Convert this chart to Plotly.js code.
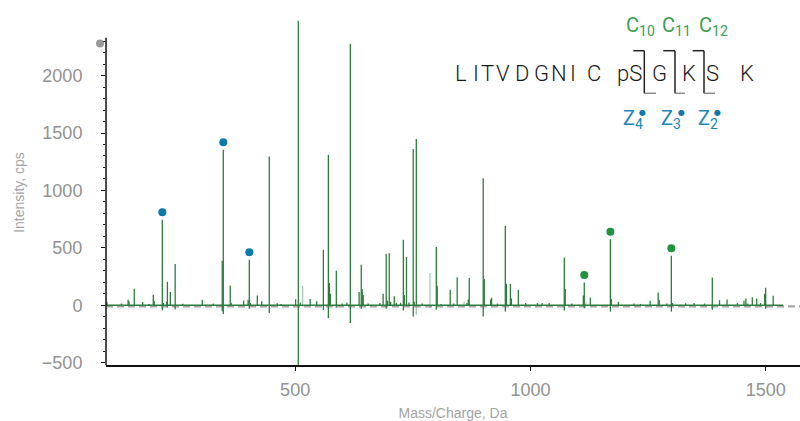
<!DOCTYPE html>
<html>
<head>
<meta charset="utf-8">
<script src="https://cdn.plot.ly/plotly-3.0.1.min.js"></script>
<style>
  html, body { margin: 0; padding: 0; background: #ffffff; }
  #chart { width: 800px; height: 421px; }
</style>
</head>
<body>
<div id="chart"></div>
<script>
// Product-ion spectrum of LITVDGNIC pS G K S K (upper trace) with mirrored reference peaks.

// Upper spectrum: m/z and intensity (cps)
const peakMz = [
  100, 131, 145, 147, 158, 176, 189, 198.5, 200.5, 217.7, 220, 227, 228.5, 234.7, 245, 261,
  302.7, 326, 345, 347.3, 362, 364, 390.5, 400, 402.6, 405, 419.6, 429, 445, 462, 470,
  501, 506.7, 511, 532, 545.7, 560, 570.6, 572.7, 574.8, 587.5, 600, 610, 617.3,
  636, 640.5, 642.6, 644.7, 655, 680, 687, 693.6, 696, 700, 703, 710.6, 715, 724,
  730, 732, 736.6, 742, 751, 753, 757.5, 770, 800, 802, 810, 829.5, 837, 844.4,
  865, 868, 870, 899.7, 902, 915.5, 917.5, 930, 946.7, 949, 957.5, 959.5, 974.3,
  990, 1015, 1025, 1040, 1072, 1074, 1088, 1112.5, 1114.5, 1127.3, 1170, 1172, 1187,
  1220, 1234, 1254.6, 1271.6, 1273.7, 1290, 1299.6, 1302, 1330, 1348, 1370, 1386.6,
  1402, 1418, 1440, 1454, 1458, 1462, 1471.6, 1481, 1489, 1498, 1500, 1516
];
const peakIntensity = [
  30, 15, 48, 36, 144, 28, 12, 92, 38, 745, 20, 30, 205, 116, 360, 14,
  48, 15, 387, 1354, 172, 22, 40, 48, 396, 20, 85, 35, 1296, 18, 12,
  53, 2477, 25, 55, 35, 483, 1310, 193, 100, 300, 15, 25, 2277,
  115, 352, 140, 90, 15, 20, 100, 448, 40, 454, 30, 78, 20, 22,
  570, 90, 420, 25, 1360, 30, 1447, 15, 507, 170, 12, 135, 15, 245,
  20, 50, 237, 1107, 228, 50, 65, 15, 692, 187, 187, 60, 135,
  20, 20, 20, 20, 416, 144, 15, 85, 199, 68, 576, 55, 30,
  15, 12, 40, 112, 48, 15, 431, 20, 18, 20, 15, 242,
  45, 50, 20, 40, 60, 15, 70, 60, 20, 100, 152, 83
];

// Mirrored reference peaks (drawn below zero)
const mirrorMz = [
  217.7, 228.5, 245, 345, 347.3, 402.6, 445, 506.7, 560, 570.6, 587.5, 617.3,
  640.5, 693.6, 730, 751, 800, 899.7, 946.7, 1072, 1114.5, 1170, 1299.6, 1386.6, 1500
];
const mirrorIntensity = [
  -45, -19, -36, -53, -77, -30, -68, -560, -39, -112, -20, -155,
  -30, -30, -45, -97, -40, -97, -55, -45, -25, -55, -55, -39, -30
];

// Weak, unassigned peaks drawn faded
const fadedMz = [516, 757.5, 786.6, 859, 1118];
const fadedIntensity = [170, -83, 280, 30, 25];
const fadedMirrorMz = [786.6, 516];
const fadedMirrorIntensity = [-25, -10];

// Spectrum baseline span (m/z)
const baselineSpan = [98, 1537];

// Fragment ion assignments: z• ions (blue) and c ions (green)
const zIonMz = [217.7, 347.3, 402.6];
const zIonIntensity = [745, 1354, 396];
const cIonMz = [1114.5, 1170, 1299.6];
const cIonIntensity = [199, 576, 431];

// Peptide sequence and fragment labels
const residues = ['L', 'I', 'T', 'V', 'D', 'G', 'N', 'I', 'C', 'pS', 'G', 'K', 'S', 'K'];
const cLabels = ['C<sub>10</sub>', 'C<sub>11</sub>', 'C<sub>12</sub>'];
const zLabels = ['Z<sub>4</sub>', 'Z<sub>3</sub>', 'Z<sub>2</sub>'];

// Axis ticks
const yTickVals = [-500, 0, 500, 1000, 1500, 2000];
const xTickVals = [500, 1000, 1500];

// ---- styling / layout helpers ----
const LINE_GREEN = '#2e7b3e';
const FADED_GREEN = 'rgba(46,123,62,0.4)';
const Z_BLUE = '#0b79a9';
const C_GREEN = '#1f9440';
const MARKER_LIFT = 65;

const M = { l: 106, r: 0, t: 20, b: 56 };
const PW = 800 - M.l - M.r, PH = 421 - M.t - M.b;
const px = v => (v - M.l) / PW;          // page pixel -> paper x
const py = v => (M.t + PH - v) / PH;     // page pixel -> paper y

function sticks(mz, inten) {
  const x = [], y = [];
  mz.forEach((m, i) => { x.push(m, m, null); y.push(0, inten[i], null); });
  return { x, y };
}

const up = sticks(peakMz, peakIntensity);
const down = sticks(mirrorMz, mirrorIntensity);
const fadedUp = sticks(fadedMz, fadedIntensity);
const fadedDown = sticks(fadedMirrorMz, fadedMirrorIntensity);

const traces = [
  { x: fadedUp.x, y: fadedUp.y, mode: 'lines', line: { color: FADED_GREEN, width: 1.3 }, hoverinfo: 'skip' },
  { x: fadedDown.x, y: fadedDown.y, mode: 'lines', line: { color: FADED_GREEN, width: 1.3 }, hoverinfo: 'skip' },
  { x: baselineSpan, y: [0, 0], mode: 'lines', line: { color: LINE_GREEN, width: 1.6 }, hoverinfo: 'skip' },
  { x: up.x, y: up.y, mode: 'lines', line: { color: LINE_GREEN, width: 1.3 } },
  { x: down.x, y: down.y, mode: 'lines', line: { color: LINE_GREEN, width: 1.3 } },
  { x: zIonMz, y: zIonIntensity.map(v => v + MARKER_LIFT), mode: 'markers',
    marker: { color: Z_BLUE, size: 8 } },
  { x: cIonMz, y: cIonIntensity.map(v => v + MARKER_LIFT), mode: 'markers',
    marker: { color: C_GREEN, size: 8 } }
];

// Residue centres along the sequence line (page pixels)
const residueX = [461, 476, 487, 503, 522, 541, 559, 573, 594, 629.5, 659, 689, 712.5, 746.5];
const annotations = residues.map((r, i) => ({
  xref: 'paper', yref: 'paper', x: px(residueX[i]), y: py(73),
  xanchor: 'center', yanchor: 'middle', showarrow: false, text: r,
  font: { family: 'Roboto, sans-serif', size: 22, color: '#1a1a1a', weight: 300 }
}));

const cX = [624, 660, 697];
cLabels.forEach((t, i) => annotations.push({
  xref: 'paper', yref: 'paper', x: px(cX[i]), y: py(26), xanchor: 'left', yanchor: 'middle',
  showarrow: false, text: t, font: { family: 'Roboto, sans-serif', size: 20, color: '#3a9e50' }
}));
const zX = [621, 659, 696];
const zDotX = [642.5, 681, 717.5];
zLabels.forEach((t, i) => {
  annotations.push({
    xref: 'paper', yref: 'paper', x: px(zX[i]), y: py(119), xanchor: 'left', yanchor: 'middle',
    showarrow: false, text: t, font: { family: 'Roboto, sans-serif', size: 20, color: '#1d86b6' }
  });
  // radical dot of the z• ion
  annotations.push({
    xref: 'paper', yref: 'paper', x: px(zDotX[i]), y: py(112), xanchor: 'center', yanchor: 'middle',
    showarrow: false, text: '●', font: { family: 'DejaVu Sans, sans-serif', size: 8, color: '#0b79a9' }
  });
});

// Cleavage brackets between residues
const shapes = [];
const brackets = [[633.3, 644.3, 656], [663.3, 675, 685], [692.7, 704, 715]];
brackets.forEach(([a, b, c]) => {
  shapes.push({ type: 'line', xref: 'paper', yref: 'paper', x0: px(a), x1: px(b), y0: py(50.7), y1: py(50.7), line: { color: '#222', width: 1.5 } });
  shapes.push({ type: 'line', xref: 'paper', yref: 'paper', x0: px(b), x1: px(b), y0: py(50.7), y1: py(93.3), line: { color: '#222', width: 1.5 } });
  shapes.push({ type: 'line', xref: 'paper', yref: 'paper', x0: px(b), x1: px(c), y0: py(93.3), y1: py(93.3), line: { color: '#8a8a8a', width: 1.5 } });
});
// zero reference line (dashed) and vertical axis line
shapes.push({ type: 'line', xref: 'paper', yref: 'y', x0: 0, x1: 1, y0: -10, y1: -10, layer: 'below',
  line: { color: '#a8a8a8', width: 2.2, dash: '7px,4px' } });
shapes.push({ type: 'line', xref: 'paper', yref: 'y', x0: 0, x1: 0, y0: -520, y1: 2329,
  line: { color: '#111', width: 1.5 } });
// small grey handle at the top of the axis
shapes.push({ type: 'circle', xref: 'paper', yref: 'paper', x0: px(96), x1: px(104), y0: py(47.5), y1: py(39.5),
  fillcolor: 'rgba(110,110,110,0.7)', line: { width: 0 } });

const minorY = [];
for (let v = -500; v <= 2300; v += 100) if (v % 500 !== 0) minorY.push(v);

const layout = {
  width: 800, height: 421, margin: M,
  paper_bgcolor: '#ffffff', plot_bgcolor: '#ffffff',
  showlegend: false,
  font: { family: 'Liberation Sans, Arial, sans-serif' },
  xaxis: {
    range: [98, 1573], showgrid: false, zeroline: false,
    showline: true, linecolor: '#111', linewidth: 1.5,
    ticks: 'outside', ticklen: 4, tickcolor: '#111', tickwidth: 1,
    tickmode: 'array', tickvals: xTickVals, ticklabelstandoff: 4,
    tickfont: { size: 18, color: '#929292' },
    title: { text: 'Mass/Charge, Da', font: { size: 14, color: '#a4a4a4' }, standoff: 14 }
  },
  yaxis: {
    range: [-520, 2484], showgrid: false, zeroline: false, showline: false,
    ticks: 'outside', ticklen: 4, tickcolor: '#111', tickwidth: 1,
    tickmode: 'array', tickvals: yTickVals, ticklabelstandoff: 15,
    tickfont: { size: 18, color: '#929292' },
    minor: { tickmode: 'array', tickvals: minorY, ticks: 'outside', ticklen: 2.5, tickcolor: '#111' },
    title: { text: 'Intensity, cps', font: { size: 14, color: '#a4a4a4' }, standoff: 13 }
  },
  annotations: annotations,
  shapes: shapes
};

Plotly.newPlot('chart', traces, layout, { displayModeBar: false, staticPlot: true });
</script>
</body>
</html>
